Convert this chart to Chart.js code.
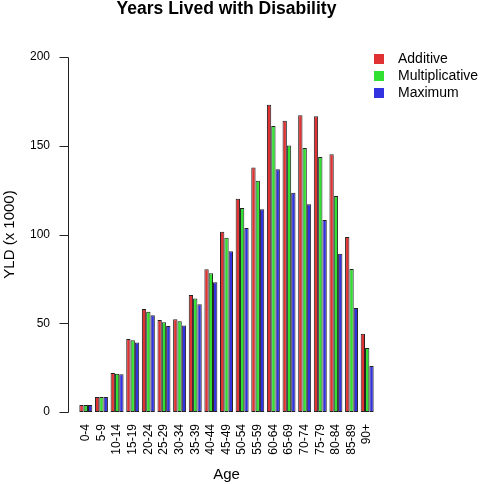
<!DOCTYPE html>
<html>
<head>
<meta charset="utf-8">
<script src="https://cdn.jsdelivr.net/npm/chart.js@4.4.1/dist/chart.umd.min.js"></script>
<style>
html,body{margin:0;padding:0;background:#fff}
#wrap{width:482px;height:484px}
</style>
</head>
<body>
<div id="wrap"><canvas id="yldChart" width="482" height="484"></canvas></div>
<script>
const ages=["0-4","5-9","10-14","15-19","20-24","25-29","30-34","35-39","40-44","45-49","50-54","55-59","60-64","65-69","70-74","75-79","80-84","85-89","90+"]
const additive=[3.9,8.5,22,41.1,58,51.8,52.2,65.9,80.4,101.6,120.2,137.8,173.1,164.1,167.2,166.6,145.2,98.6,44.1]
const multiplicative=[3.9,8.5,21.6,40.4,56.5,50.5,51.1,64,78.1,98.2,114.9,130.3,161.1,150.2,148.7,143.7,121.7,80.6,36.1]
const maximum=[3.9,8.5,21.2,39.1,54.5,48.5,48.8,60.7,73.1,90.5,103.7,114.2,136.7,123.5,117,108.2,89.2,58.6,25.9]
const yTicks=[0,50,100,150,200]

const font="'Liberation Sans', Arial, Helvetica, sans-serif"
Chart.defaults.font.family=font
Chart.defaults.color="#000"

// R-style y axis (detached from the bars) and legend at the top right
const axisAndLegend={
id:"axisAndLegend",
afterDraw(chart){
const c=chart.ctx
const y=chart.scales.y
const a=chart.chartArea
const x0=Math.round(a.left-10)+0.5
c.save()
c.strokeStyle="#222"
c.lineWidth=1
c.beginPath()
c.moveTo(x0,Math.round(y.getPixelForValue(yTicks[0]))+0.5)
c.lineTo(x0,Math.round(y.getPixelForValue(yTicks[yTicks.length-1]))+0.5)
yTicks.forEach(v=>{
const py=Math.round(y.getPixelForValue(v))+0.5
c.moveTo(x0,py)
c.lineTo(x0-9,py)
})
c.stroke()
c.font="14px "+font
c.textBaseline="middle"
c.textAlign="left"
chart.data.datasets.forEach((d,i)=>{
const ly=59+i*17
c.fillStyle=d.backgroundColor
c.fillRect(a.right-1,ly-5,10,10)
c.fillStyle="#000"
c.fillText(d.label,a.right+23,ly)
})
c.restore()
}
}

const bar=(label,data,color)=>({
label:label,
data:data,
backgroundColor:color,
borderColor:"#222",
borderWidth:1,
borderSkipped:false,
categoryPercentage:0.83,
barPercentage:1
})

new Chart(document.getElementById("yldChart"),{
type:"bar",
data:{
labels:ages,
datasets:[
bar("Additive",additive,"#e03232"),
bar("Multiplicative",multiplicative,"#32e032"),
bar("Maximum",maximum,"#3232e0")
]
},
options:{
responsive:false,
animation:false,
layout:{padding:{left:0,right:107,top:0,bottom:0}},
plugins:{
legend:{display:false},
tooltip:{enabled:false},
title:{
display:true,
fullSize:false,
text:"Years Lived with Disability",
font:{size:17.5,weight:"bold",lineHeight:1},
padding:{top:0,bottom:39.5}
}
},
scales:{
x:{
grid:{display:false,drawTicks:false},
border:{display:false},
ticks:{minRotation:90,maxRotation:90,autoSkip:false,padding:12,font:{size:12}},
title:{display:true,text:"Age",font:{size:15,lineHeight:1.2},padding:{top:0,bottom:0}},
afterFit(s){s.height=72}
},
y:{
min:0,
max:200,
grid:{display:false,drawTicks:false},
border:{display:false},
ticks:{stepSize:50,padding:28,font:{size:12}},
title:{display:true,text:"YLD (x 1000)",font:{size:15,lineHeight:1.2},padding:{top:1,bottom:0}},
afterFit(s){s.width=78}
}
}
},
plugins:[axisAndLegend]
})
</script>
</body>
</html>
